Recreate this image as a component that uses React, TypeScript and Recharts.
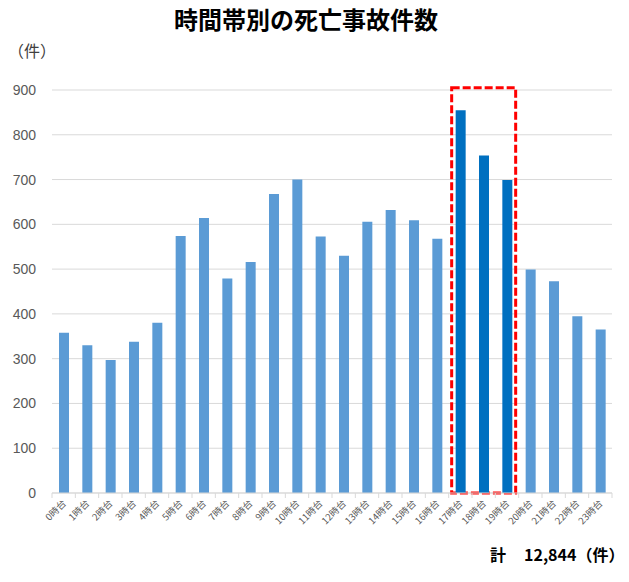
import React from "react";
import {
  BarChart,
  Bar,
  XAxis,
  YAxis,
  CartesianGrid,
  Cell,
  ReferenceArea,
} from "recharts";

const hours: string[] = [
  "0時台", "1時台", "2時台", "3時台", "4時台", "5時台", "6時台", "7時台",
  "8時台", "9時台", "10時台", "11時台", "12時台", "13時台", "14時台", "15時台",
  "16時台", "17時台", "18時台", "19時台", "20時台", "21時台", "22時台", "23時台",
];

const counts: number[] = [
  358, 330, 297, 338, 380, 574, 614, 479,
  516, 668, 700, 573, 530, 606, 632, 609,
  568, 855, 754, 699, 499, 473, 395, 365,
];

const highlighted: string[] = ["17時台", "18時台", "19時台"];

const yTicks: number[] = [0, 100, 200, 300, 400, 500, 600, 700, 800, 900];

const titleText = "時間帯別の死亡事故件数";
const unitText = "（件）";
const totalLabel = "計";
const totalValue = "12,844（件）";

const boxRange = { from: "17時台", to: "19時台", top: 905 };

const data = hours.map((h, i) => ({ hour: h, count: counts[i] }));

const FONT = "'Noto Sans CJK JP', 'Noto Sans', sans-serif";
const AXIS_GREY = "#d9d9d9";
const TEXT_GREY = "#595959";

const XTick = (props: any) => {
  const { x, y, payload, index } = props;
  const half = payload && payload.offset ? payload.offset : 0;
  const isLast = index === hours.length - 1;
  return (
    <g>
      <line x1={x - half} y1={y - 8} x2={x - half} y2={y - 3} stroke={AXIS_GREY} strokeWidth={1} />
      {isLast && (
        <line x1={x + half} y1={y - 8} x2={x + half} y2={y - 3} stroke={AXIS_GREY} strokeWidth={1} />
      )}
      <g transform={`translate(${x + 3},${y + 3})`}>
        <text
          x={0}
          y={0}
          textAnchor="end"
          transform="rotate(-45)"
          fontSize={9.5}
          fill={TEXT_GREY}
          fontFamily={FONT}
        >
          {payload.value}
        </text>
      </g>
    </g>
  );
};

const DashedBox = (props: any) => {
  const { x, y, width, height } = props;
  const inset = 3;
  return (
    <rect
      x={x + inset}
      y={y}
      width={width - inset * 2}
      height={height}
      fill="none"
      stroke="#ff0000"
      strokeWidth={3}
      strokeDasharray="8 3"
    />
  );
};

export default function App() {
  return (
    <div
      style={{
        position: "absolute",
        left: 0,
        top: 0,
        width: 629,
        height: 582,
        background: "#ffffff",
        fontFamily: FONT,
      }}
    >
      <div
        style={{
          position: "absolute",
          left: 0,
          width: 612,
          top: 3,
          textAlign: "center",
          fontSize: 24,
          fontWeight: 700,
          color: "#000",
          lineHeight: "32px",
        }}
      >
        {titleText}
      </div>
      <div
        style={{
          position: "absolute",
          left: 8,
          top: 38,
          fontSize: 16,
          color: "#404040",
          lineHeight: "24px",
        }}
      >
        {unitText}
      </div>
      <div
        style={{
          position: "absolute",
          left: 490,
          top: 542,
          fontSize: 16,
          fontWeight: 700,
          color: "#000",
          lineHeight: "24px",
          whiteSpace: "pre",
        }}
      >
        {totalLabel}
        <span style={{ marginLeft: 18 }}>{totalValue}</span>
      </div>
      <BarChart
        width={629}
        height={582}
        data={data}
        margin={{ top: 90, right: 17, bottom: 0, left: 0 }}
        style={{ position: "absolute", left: 0, top: 0 }}
      >
        <CartesianGrid vertical={false} stroke={AXIS_GREY} strokeWidth={1} />
        <XAxis
          dataKey="hour"
          height={89}
          interval={0}
          tickLine={false}
          axisLine={{ stroke: AXIS_GREY, strokeWidth: 1 }}
          tick={<XTick />}
          tickSize={8}
          tickMargin={0}
        />
        <YAxis
          width={52}
          domain={[0, 900]}
          ticks={yTicks}
          interval={0}
          axisLine={false}
          tickLine={false}
          tickSize={0}
          tickMargin={16}
          tick={{ fontSize: 14, fill: TEXT_GREY, fontFamily: "'Liberation Sans', sans-serif" }}
        />
        <Bar dataKey="count" barSize={10} isAnimationActive={false}>
          {data.map((d) => (
            <Cell
              key={d.hour}
              fill={highlighted.includes(d.hour) ? "#0070C0" : "#5B9BD5"}
            />
          ))}
        </Bar>
        <ReferenceArea
          x1={boxRange.from}
          x2={boxRange.to}
          y1={0}
          y2={boxRange.top}
          ifOverflow="visible"
          shape={<DashedBox />}
        />
      </BarChart>
    </div>
  );
}
